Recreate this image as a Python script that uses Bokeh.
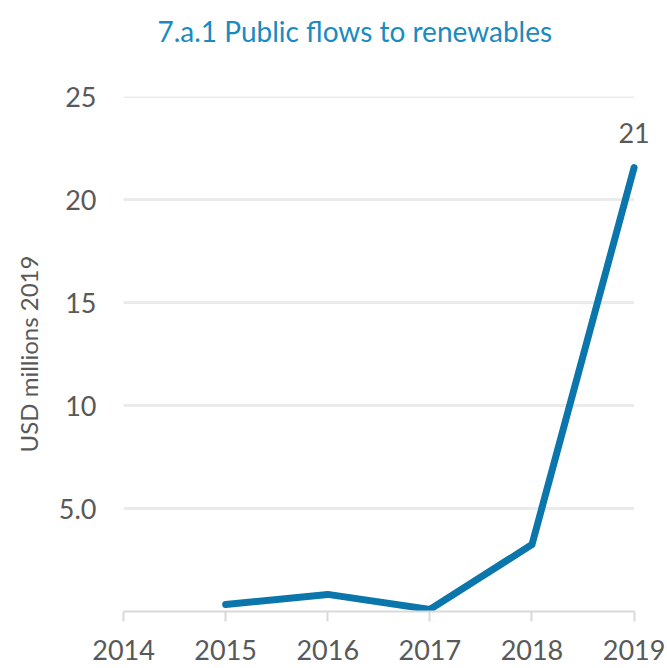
from bokeh.plotting import figure
from bokeh.models import Range1d, FixedTicker, Label, Title
from bokeh.embed import file_html
from bokeh.resources import INLINE

# ---- data ----
years = [2015, 2016, 2017, 2018, 2019]
values = [0.34, 0.83, 0.10, 3.25, 21.55]
x_ticks = [2014, 2015, 2016, 2017, 2018, 2019]
y_ticks = [5, 10, 15, 20, 25]
y_tick_labels = ["5.0", "10", "15", "20", "25"]
end_label = "21"
title_text = "7.a.1 Public flows to renewables"
y_title = "USD millions 2019"

LINE = "#0a76ab"
TXT = "#595959"
FONT = "Lato"

p = figure(frame_width=534, frame_height=515, output_backend="svg", toolbar_location=None,
           x_range=Range1d(2013.97, 2019.2), y_range=Range1d(0, 25),
           min_border_left=120, min_border_right=13, min_border_top=96,
           min_border_bottom=57)
p.outline_line_color = None
p.background_fill_color = "white"

p.title.text = title_text
p.title.text_font = FONT
p.title.text_font_size = "28px"
p.title.text_font_style = "normal"
p.title.text_color = "#1a8bc0"
p.title.align = "left"
p.title.offset = 37
p.title.standoff = 10

# spacer panel between the frame and the chart title
p.add_layout(Title(text=" ", text_font_size="1px", standoff=41), "above")

# gridlines drawn only across the tick span
p.segment(x0=x_ticks[0], x1=x_ticks[-1], y0=y_ticks, y1=y_ticks,
          line_color="#ebebeb", line_width=3)

p.line(years, values, line_color=LINE, line_width=7, line_cap="round", line_join="round")

# x axis
xa = p.xaxis[0]
xa.ticker = FixedTicker(ticks=x_ticks)
xa.bounds = (x_ticks[0], x_ticks[-1])
xa.axis_line_color = "#d9d9d9"
xa.axis_line_width = 2
xa.major_tick_line_color = "#d9d9d9"
xa.major_tick_line_width = 2
xa.major_tick_out = 10
xa.major_tick_in = 0
xa.minor_tick_line_color = None
xa.major_label_text_font = FONT
xa.major_label_text_font_size = "27px"
xa.major_label_text_color = TXT
xa.major_label_standoff = 18

# y axis
ya = p.yaxis[0]
ya.ticker = FixedTicker(ticks=y_ticks)
ya.major_label_overrides = {t: l for t, l in zip(y_ticks, y_tick_labels)}
ya.axis_line_color = None
ya.major_tick_line_color = None
ya.minor_tick_line_color = None
ya.major_label_text_font = FONT
ya.major_label_text_font_size = "27px"
ya.major_label_text_color = TXT
ya.major_label_standoff = 18
ya.axis_label = y_title
ya.axis_label_text_font = FONT
ya.axis_label_text_font_size = "24px"
ya.axis_label_text_font_style = "normal"
ya.axis_label_text_color = TXT
ya.axis_label_standoff = 13

p.xgrid.grid_line_color = None
p.ygrid.grid_line_color = None

# end value label
p.add_layout(Label(x=years[-1], y=values[-1], text=end_label, y_offset=35,
                   text_align="center", text_baseline="middle",
                   text_font=FONT, text_font_size="27px", text_color=TXT))

open("out.html", "w").write(file_html(p, INLINE))
